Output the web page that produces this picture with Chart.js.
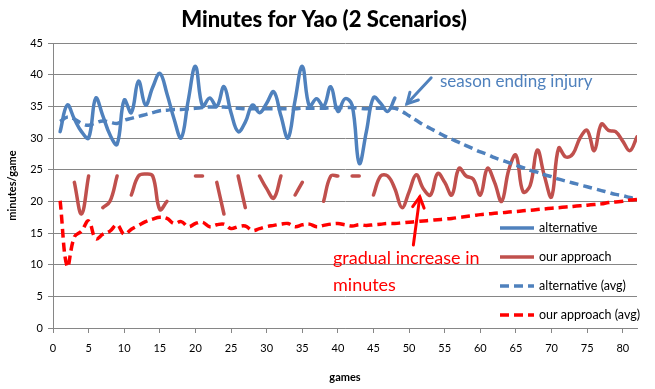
<!DOCTYPE html>
<html><head><meta charset="utf-8">
<script src="https://cdn.jsdelivr.net/npm/chart.js@4.4.0/dist/chart.umd.min.js"></script>
<style>html,body{margin:0;padding:0;background:#fff;}#wrap{width:655px;height:389px;}</style>
</head><body><div id="wrap"><canvas id="c" width="655" height="389"></canvas></div>
<script>
const games = [1,2,3,4,5,6,7,8,9,10,11,12,13,14,15,16,17,18,19,20,21,22,23,24,25,26,27,28,29,30,31,32,33,34,35,36,37,38,39,40,41,42,43,44,45,46,47,48,49,50,51,52,53,54,55,56,57,58,59,60,61,62,63,64,65,66,67,68,69,70,71,72,73,74,75,76,77,78,79,80,81,82];
const alternative = [31,35.2,33,31,30,36.3,33.5,30.5,29,36, 34,39,35.2,38,40.2,37,33,30,36,41.3, 35,36.3,35,38.1,34,31,32.5,35.2,34,35.5, 37.3,33.5,30,36,41.3,35,36.2,35,38.1,34.2, 36.2,35.2,26,31,36.4,35.5,34.2,36.3];
const ourApproach = [null,null,23,18,24,null,19,20,24,null, 21,24,24.3,24,18.7,20,null,null,null,24, 24,null,23,18,null,24,19,null,24,22, 20.5,24,null,21,23,null,null,20,24,24, null,24,24,null,21,24,24,22,19,21.5, 24.2,22,21,24.4,23,21,25.2,24,23.5,21, 25.2,23,20,25,27.3,21.5,22.5,28.1,24,20.7, 28.4,27,27.5,30,31.2,28,32.2,31.2,31,29.5, 28,30.2];
const alternativeAvg = [32.6,33.3,33.0,32.3,32.0,32.4,32.7,32.5,32.3,32.8, 33.1,33.4,33.7,34.0,34.3,34.4,34.5,34.5,34.6,34.7, 34.8,34.9,34.9,34.9,34.8,34.7,34.6,34.6,34.6,34.6, 34.6,34.6,34.6,34.6,34.7,34.7,34.7,34.7,34.8,34.8, 34.8,34.8,34.7,34.6,34.7,34.7,34.7,34.7,34.2,33.5, 32.8,32.1,31.5,30.9,30.3,29.8,29.3,28.8,28.3,27.8, 27.4,26.9,26.5,26.1,25.7,25.3,24.9,24.6,24.2,23.9, 23.5,23.2,22.9,22.6,22.3,22.0,21.7,21.4,21.1,20.9, 20.6,20.4];
const ourApproachAvg = [20.1,9.7,14.4,15.3,16.9,14.1,14.8,15.3,16.3,14.8, 15.6,16.2,16.8,17.2,17.5,17.3,16.5,16.8,16.0,16.5, 16.7,16.0,16.3,16.4,15.7,16.0,16.1,15.4,15.7,16.0, 16.2,16.4,16.5,16.0,16.3,16.4,16.0,16.2,16.4,16.5, 16.3,16.1,16.3,16.2,16.3,16.4,16.5,16.5,16.6,16.7, 16.8,16.9,17.0,17.1,17.2,17.3,17.45,17.6,17.75,17.9, 18.0,18.1,18.2,18.3,18.4,18.5,18.6,18.7,18.8,18.9, 19.0,19.1,19.2,19.3,19.4,19.5,19.6,19.8,19.9,20.0, 20.2,20.3];
const xTickLabels = [0,5,10,15,20,25,30,35,40,45,50,55,60,65,70,75,80];
const yTickLabels = [0,5,10,15,20,25,30,35,40,45];

const BLUE = '#4f81bd', DRED = '#c0504d', RED = '#ff0000', GRID = '#868686';
const FONT = 'Lato, "Open Sans", sans-serif';

function pts(arr){ return arr.map((v,i)=>({x:games[i], y:(v===undefined?null:v)})); }

const legendPlugin = {
  id:'customLegend',
  afterDraw(chart){
    const ctx = chart.ctx;
    const ys = [228,257,286,315];
    chart.data.datasets.forEach((ds,i)=>{
      ctx.save();
      ctx.strokeStyle = ds.borderColor;
      ctx.lineWidth = 3.5;
      ctx.setLineDash(ds.borderDash || []);
      ctx.lineCap = 'butt';
      ctx.beginPath(); ctx.moveTo(500, ys[i]); ctx.lineTo(534, ys[i]); ctx.stroke();
      ctx.setLineDash([]);
      ctx.fillStyle = '#000';
      ctx.font = '12.5px ' + FONT;
      ctx.textBaseline = 'middle';
      ctx.fillText(ds.label, 539, ys[i]);
      ctx.restore();
    });
  }
};

function arrow(ctx, x1, y1, x2, y2, color){
  ctx.save();
  ctx.strokeStyle = color; ctx.lineWidth = 3; ctx.lineCap='round';
  ctx.beginPath(); ctx.moveTo(x1,y1); ctx.lineTo(x2,y2); ctx.stroke();
  const a = Math.atan2(y2-y1, x2-x1), L = 12, w = 0.5;
  ctx.beginPath();
  ctx.moveTo(x2 - L*Math.cos(a-w), y2 - L*Math.sin(a-w));
  ctx.lineTo(x2, y2);
  ctx.lineTo(x2 - L*Math.cos(a+w), y2 - L*Math.sin(a+w));
  ctx.stroke();
  ctx.restore();
}

const annotPlugin = {
  id:'annot',
  afterDraw(chart){
    const ctx = chart.ctx;
    ctx.save();
    ctx.textBaseline = 'middle';
    ctx.font = '900 22px ' + FONT;
    ctx.fillStyle = '#000'; ctx.textAlign = 'center';
    ctx.fillText('Minutes for Yao (2 Scenarios)', 324, 20);
    ctx.textAlign = 'left';
    ctx.font = '17px ' + FONT;
    ctx.fillStyle = BLUE;
    ctx.fillText('season ending injury', 440, 82);
    ctx.font = '18px ' + FONT;
    ctx.fillStyle = RED;
    ctx.fillText('gradual increase in', 333, 258);
    ctx.fillText('minutes', 333, 285);
    ctx.restore();
    const xs = chart.scales.x, ys = chart.scales.y;
    arrow(ctx, xs.getPixelForValue(53.1), ys.getPixelForValue(39.5), xs.getPixelForValue(49.7), ys.getPixelForValue(35.4), BLUE);
    arrow(ctx, xs.getPixelForValue(50.6), ys.getPixelForValue(13.1), xs.getPixelForValue(51.5), ys.getPixelForValue(20.7), RED);
  }
};

new Chart(document.getElementById('c'), {
  type:'line',
  data:{ datasets:[
    {label:'alternative', data:pts(alternative), borderColor:BLUE, borderWidth:3.5, borderCapStyle:'round', pointRadius:0, tension:0.4, spanGaps:false, order:4},
    {label:'our approach', data:pts(ourApproach), borderColor:DRED, borderWidth:3.5, borderCapStyle:'round', pointRadius:0, tension:0.4, spanGaps:false, order:3},
    {label:'alternative (avg)', data:pts(alternativeAvg), borderColor:BLUE, borderWidth:3.5, borderDash:[9,5], pointRadius:0, tension:0.4, order:2},
    {label:'our approach (avg)', data:pts(ourApproachAvg), borderColor:RED, borderWidth:3.5, borderDash:[9,5], pointRadius:0, tension:0.4, order:1}
  ]},
  options:{
    responsive:false, animation:false, devicePixelRatio:1,
    layout:{padding:{top:43,right:18,left:0,bottom:0}},
    plugins:{legend:{display:false}, tooltip:{enabled:false}, title:{display:false}},
    scales:{
      x:{type:'linear', min:0, max:82,
        afterBuildTicks:(s)=>{ s.ticks = xTickLabels.map(v=>({value:v})); },
        afterFit:(s)=>{ s.height = 61; },
        ticks:{font:{family:FONT,size:11}, color:'#000', padding:9, maxRotation:0, autoSkip:false},
        grid:{drawOnChartArea:false, tickLength:5, color:GRID},
        border:{color:GRID, width:1},
        title:{display:true, text:'games', font:{family:FONT,size:11,weight:'bold'}, color:'#000', padding:{top:0,bottom:5}}
      },
      y:{type:'linear', min:0, max:45,
        afterBuildTicks:(s)=>{ s.ticks = yTickLabels.map(v=>({value:v})); },
        afterFit:(s)=>{ s.width = 53; },
        ticks:{font:{family:FONT,size:11}, color:'#000', padding:5},
        grid:{color:GRID, tickLength:5, lineWidth:1},
        border:{color:GRID, width:1},
        title:{display:true, text:'minutes/game', font:{family:FONT,size:11,weight:'bold'}, color:'#000', padding:{top:6,bottom:0}}
      }
    }
  },
  plugins:[legendPlugin, annotPlugin]
});
</script></body></html>
